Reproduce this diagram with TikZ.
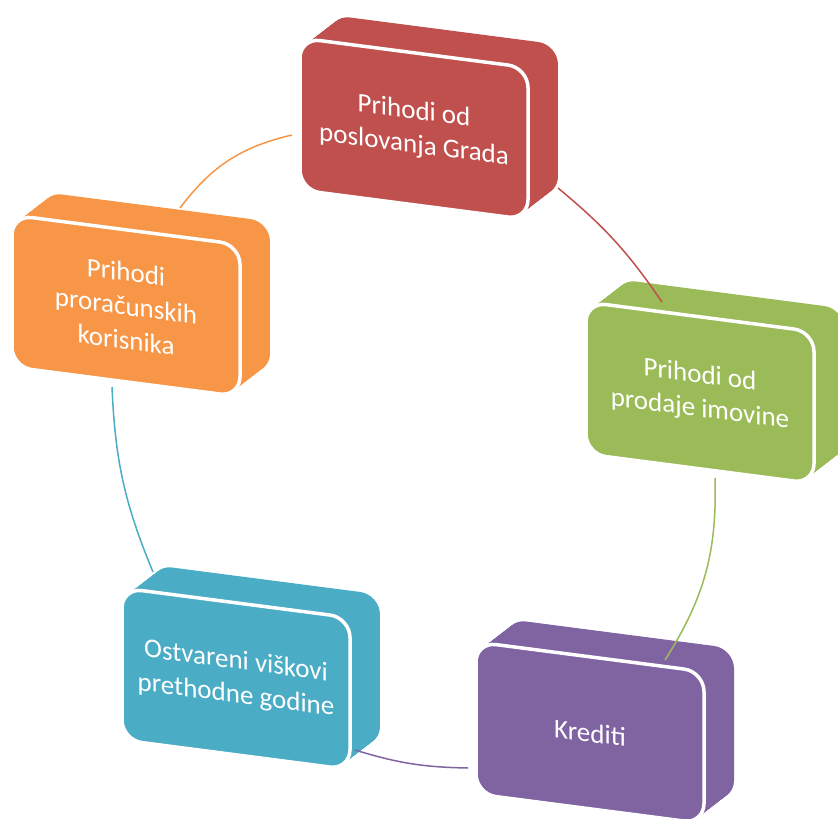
\documentclass[tikz,border=0pt]{standalone}
\usepackage{fontspec}
\setmainfont{Carlito}
\usepackage{tikz}

\pgfdeclarelayer{slab}
\pgfdeclarelayer{links}
\pgfsetlayers{slab,links,main}

\definecolor{gradred}{HTML}{C0504D}
\definecolor{imovgreen}{HTML}{9BBB59}
\definecolor{kredpurple}{HTML}{8064A2}
\definecolor{viskaqua}{HTML}{4BACC6}
\definecolor{korisorange}{HTML}{F79646}

% #1 name, #2/#3 top left corner, #4 colour, #5 text
\newcommand{\slabbox}[5]{%
  \begin{scope}[shift={(#2,#3)}, yslant=-0.13]
    \begin{pgfonlayer}{slab}
      \foreach \t in {0,0.025,...,1}
        \fill[#4, rounded corners=20pt] ({30*\t},{-27*\t}) rectangle ++(228,152);
    \end{pgfonlayer}
    \fill[#4, draw=white, line width=3.5pt, rounded corners=20pt] (0,0) rectangle (228,152);
    \node[boxtext] (#1) at (114,76) {#5};
  \end{scope}}

\begin{document}
\begin{tikzpicture}[x=1pt, y=-1pt,
    boxtext/.style={text=white, align=center, font=\fontsize{27}{34}\selectfont, transform shape},
    link/.style={line width=1.5pt}]
    \useasboundingbox (0,0) rectangle (838,819);
    \clip (0,0) rectangle (838,819);

    \slabbox{grad}{300}{38}{gradred}{Prihodi od\\poslovanja Grada}
    \slabbox{imovina}{586}{302}{imovgreen}{Prihodi od\\prodaje imovine}
    \slabbox{krediti}{476}{642}{kredpurple}{Krediti}
    \slabbox{viskovi}{122}{588}{viskaqua}{Ostvareni viškovi\\prethodne godine}
    \slabbox{korisnici}{12}{215}{korisorange}{Prihodi\\proračunskih\\korisnika}

    \coordinate (korisnici-out) at (180,208);
    \coordinate (grad-in) at (292,135);
    \coordinate (grad-out) at (558,188);
    \coordinate (imovina-in) at (662,302);
    \coordinate (imovina-out) at (715,478);
    \coordinate (krediti-in) at (665,660);
    \coordinate (krediti-out) at (468,768);
    \coordinate (viskovi-in) at (355,750);
    \coordinate (viskovi-out) at (153,572);
    \coordinate (korisnici-in) at (112,387);

    \begin{pgfonlayer}{links}
        \draw[link, korisorange] (korisnici-out) to[bend left=20] (grad-in);
        \draw[link, gradred] (grad-out) to[bend left=8] (imovina-in);
        \draw[link, imovgreen] (imovina-out) to[bend left=17] (krediti-in);
        \draw[link, kredpurple] (krediti-out) to[bend left=8] (viskovi-in);
        \draw[link, viskaqua] (viskovi-out) to[bend left=10] (korisnici-in);
    \end{pgfonlayer}
\end{tikzpicture}
\end{document}
